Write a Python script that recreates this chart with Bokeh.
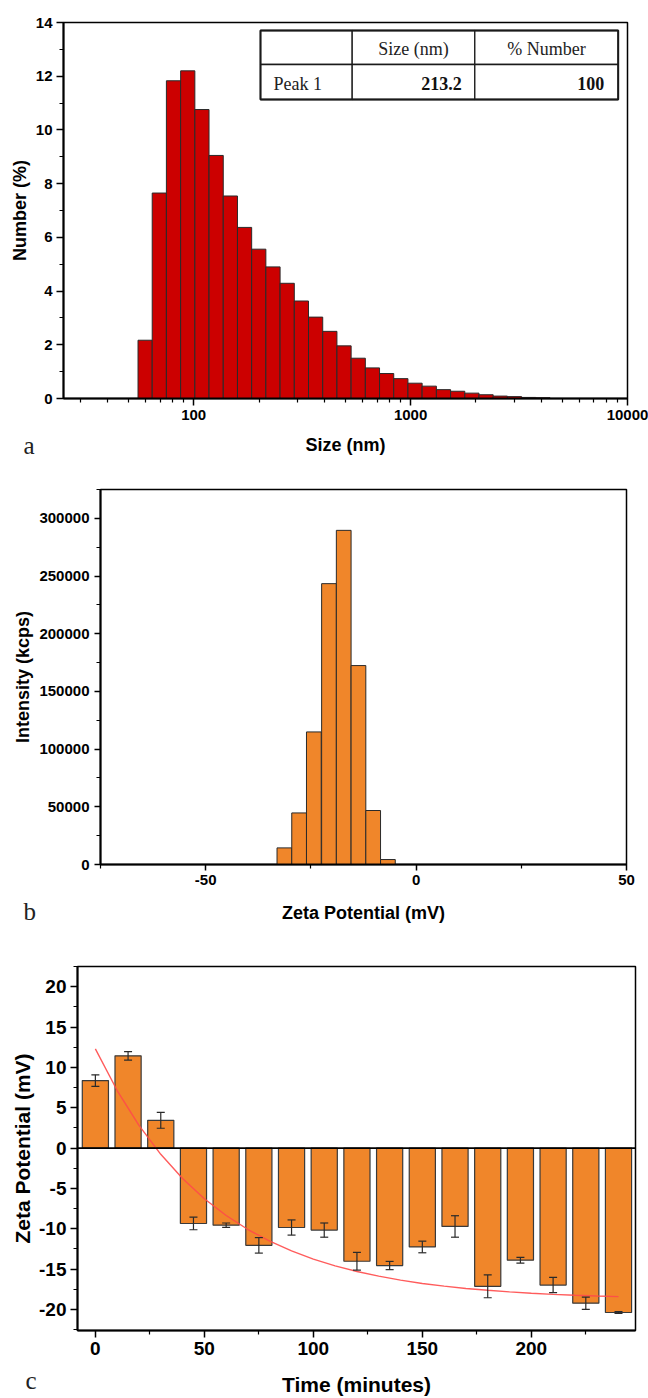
import math
from bokeh.plotting import figure
from bokeh.layouts import column
from bokeh.models import (FixedTicker, BasicTickFormatter, Label, Span, Whisker,
                          TeeHead, ColumnDataSource)
from bokeh.embed import file_html
from bokeh.resources import INLINE

# ---------------- data ----------------
# (a) size distribution by number
size_nm = [59.7, 69.4, 80.7, 93.9, 109.1, 126.9, 147.6, 171.6, 199.5, 232.0,
           269.8, 313.7, 364.8, 424.2, 493.3, 573.5, 666.8, 775.4, 901.6, 1048,
           1219, 1418, 1648, 1917, 2228, 2591, 3013, 3504, 4074]
number_pct = [2.17, 7.65, 11.83, 12.20, 10.76, 9.05, 7.54, 6.37, 5.56, 4.90,
              4.29, 3.63, 3.03, 2.50, 1.96, 1.50, 1.14, 0.93, 0.74, 0.57,
              0.46, 0.33, 0.27, 0.20, 0.14, 0.09, 0.07, 0.04, 0.03]
a_xticks = [100, 1000, 10000]
table_header = ["", "Size (nm)", "% Number"]
table_row = ["Peak 1", "213.2", "100"]

# (b) zeta potential distribution
zeta_mv = [-31.3, -27.8, -24.3, -20.7, -17.2, -13.7, -10.2, -6.7]
intensity_kcps = [14400, 44700, 114900, 243400, 289600, 172400, 46800, 4300]
b_xticks = [-50, 0, 50]
b_yticks = [0, 50000, 100000, 150000, 200000, 250000, 300000]

# (c) zeta potential vs time
time_min = [0, 15, 30, 45, 60, 75, 90, 105, 120, 135, 150, 165, 180, 195, 210, 225, 240]
zeta_c = [8.36, 11.43, 3.44, -9.34, -9.55, -12.05, -9.84, -10.16, -14.02, -14.55,
          -12.25, -9.71, -17.13, -13.89, -16.97, -19.22, -20.37]
zeta_err = [0.72, 0.53, 0.98, 0.78, 0.27, 0.96, 0.94, 0.88, 1.10, 0.51,
            0.72, 1.33, 1.41, 0.35, 0.94, 0.76, 0.10]
fit_t = [0, 10, 20, 30, 40, 50, 60, 70, 80, 90, 100, 110, 120, 130, 140, 150,
         160, 170, 180, 190, 200, 210, 220, 230, 240]
fit_zeta = [12.30, 7.13, 2.82, -0.77, -3.77, -6.27, -8.35, -10.09, -11.54, -12.74,
            -13.75, -14.59, -15.29, -15.87, -16.36, -16.77, -17.10, -17.39, -17.62,
            -17.82, -17.98, -18.12, -18.23, -18.32, -18.40]
c_xticks = [0, 50, 100, 150, 200]
c_yticks = [-20, -15, -10, -5, 0, 5, 10, 15, 20]

# ---------------- styling ----------------
SANS = "Liberation Sans"
SERIF = "Liberation Serif"
RED = "#CC0000"
ORANGE = "#F0862A"
W = 648


def style_axes(p, tick_px, label_px, tick_out, lbl_standoff, x_als, y_als):
    for ax in (p.xaxis[0], p.yaxis[0]):
        ax.axis_line_color = "black"
        ax.axis_line_width = 2
        ax.major_tick_line_color = "black"
        ax.major_tick_line_width = 1.5
        ax.minor_tick_line_color = "black"
        ax.minor_tick_line_width = 1.2
        ax.major_tick_in = 0
        ax.major_tick_out = tick_out
        ax.minor_tick_in = 0
        ax.minor_tick_out = 4
        ax.major_label_text_font = SANS
        ax.major_label_text_font_style = "bold"
        ax.major_label_text_font_size = f"{tick_px}px"
        ax.major_label_text_color = "black"
        ax.major_label_standoff = lbl_standoff
        ax.axis_label_text_font = SANS
        ax.axis_label_text_font_style = "bold"
        ax.axis_label_text_font_size = f"{label_px}px"
        ax.axis_label_text_color = "black"
    p.xaxis[0].axis_label_standoff = x_als
    p.yaxis[0].axis_label_standoff = y_als
    p.xgrid.visible = False
    p.ygrid.visible = False
    p.outline_line_color = "black"
    p.outline_line_width = 1.5
    p.background_fill_color = "white"
    p.border_fill_color = "white"


def plain_labels(ticks):
    return {t: str(t) for t in ticks}


def panel_letter(p, x, y, txt):
    # lives in the (otherwise empty) right side panel so it is not clipped to the
    # frame; its position is still given in the plot's data coordinates
    p.add_layout(Label(x=x, y=y, text=txt, text_font=SERIF, text_color="#222222",
                       text_font_size="25px", text_align="left",
                       text_baseline="alphabetic"), "right")


# ---------------- panel (a) ----------------
A_TOP = 0
A_H = 460
A_ML, A_MR, A_MT, A_MB = 63, 21, 22, 62
A_XR = (25.1, 10000)
A_YR = (0, 14)
pa = figure(width=W, height=A_H, x_axis_type="log", x_range=A_XR, y_range=A_YR,
            output_backend="svg", toolbar_location=None, frame_align=False,
            min_border_left=A_ML, min_border_right=A_MR,
            min_border_top=A_MT, min_border_bottom=A_MB)
AX0, AX1 = A_ML, W - A_MR
AY0, AY1 = A_TOP + A_MT, A_TOP + A_H - A_MB


def ax_(px):
    lo, hi = math.log10(A_XR[0]), math.log10(A_XR[1])
    return 10 ** (lo + (px - AX0) / (AX1 - AX0) * (hi - lo))


def ay_(py):
    return A_YR[0] + (AY1 - py) / (AY1 - AY0) * (A_YR[1] - A_YR[0])


lefts, rights = [], []
n = len(size_nm)
for i, s in enumerate(size_nm):
    lo = math.sqrt(size_nm[i - 1] * s) if i > 0 else s / math.sqrt(size_nm[1] / size_nm[0])
    hi = math.sqrt(size_nm[i + 1] * s) if i < n - 1 else s * math.sqrt(size_nm[-1] / size_nm[-2])
    lefts.append(lo)
    rights.append(hi)
pa.quad(left=lefts, right=rights, top=number_pct, bottom=0,
        fill_color=RED, line_color="#2a2a2a", line_width=1)

pa.xaxis.ticker = FixedTicker(ticks=a_xticks,
                              minor_ticks=[30, 40, 50, 60, 70, 80, 90,
                                           200, 300, 400, 500, 600, 700, 800, 900,
                                           2000, 3000, 4000, 5000, 6000, 7000, 8000, 9000])
pa.xaxis.formatter = BasicTickFormatter(use_scientific=False)
pa.yaxis.ticker = FixedTicker(ticks=[0, 2, 4, 6, 8, 10, 12, 14],
                              minor_ticks=[1, 3, 5, 7, 9, 11, 13])
pa.xaxis.axis_label = "Size (nm)"
pa.yaxis.axis_label = "Number (%)"
style_axes(pa, 15, 18, 7, 4, 12, 3)

# table
cols_px = [260, 351.7, 474.3, 617.7]
rows_px = [30, 64, 99]
for r in range(2):
    for c in range(3):
        pa.quad(left=[ax_(cols_px[c])], right=[ax_(cols_px[c + 1])],
                top=[ay_(rows_px[r])], bottom=[ay_(rows_px[r + 1])],
                fill_color="white", line_color="#1a1a1a", line_width=1.3)
pa.quad(left=[ax_(cols_px[0])], right=[ax_(cols_px[3])],
        top=[ay_(rows_px[0])], bottom=[ay_(rows_px[2])],
        fill_alpha=0, line_color="#1a1a1a", line_width=2)
mid1, mid2 = 48, 83
TBL = dict(text_font=SERIF, text_font_size="18px", text_baseline="middle")
pa.add_layout(Label(x=ax_((cols_px[1] + cols_px[2]) / 2), y=ay_(mid1), text=table_header[1],
                    text_align="center", text_color="#222222", **TBL))
pa.add_layout(Label(x=ax_((cols_px[2] + cols_px[3]) / 2), y=ay_(mid1), text=table_header[2],
                    text_align="center", text_color="#222222", **TBL))
pa.add_layout(Label(x=ax_(cols_px[0] + 13), y=ay_(mid2), text=table_row[0],
                    text_align="left", text_color="#222222", **TBL))
pa.add_layout(Label(x=ax_(cols_px[2] - 13), y=ay_(mid2), text=table_row[1],
                    text_font_style="bold", text_align="right", text_color="#111111", **TBL))
pa.add_layout(Label(x=ax_(cols_px[3] - 14), y=ay_(mid2), text=table_row[2],
                    text_font_style="bold", text_align="right", text_color="#111111", **TBL))
panel_letter(pa, ax_(23), ay_(445), "a")

# ---------------- panel (b) ----------------
B_TOP = A_TOP + A_H
B_H = 465
B_ML, B_MR, B_MT, B_MB = 100, 22, 29, 61
B_XR = (-75, 50)
B_YR = (0, 325000)
pb = figure(width=W, height=B_H, x_range=B_XR, y_range=B_YR,
            output_backend="svg", toolbar_location=None, frame_align=False,
            min_border_left=B_ML, min_border_right=B_MR,
            min_border_top=B_MT, min_border_bottom=B_MB)
BX0, BX1 = B_ML, W - B_MR
BY0, BY1 = B_TOP + B_MT, B_TOP + B_H - B_MB


def bx_(px):
    return B_XR[0] + (px - BX0) / (BX1 - BX0) * (B_XR[1] - B_XR[0])


def by_(py):
    return B_YR[0] + (BY1 - py) / (BY1 - BY0) * (B_YR[1] - B_YR[0])


pb.vbar(x=zeta_mv, top=intensity_kcps, bottom=0, width=3.5,
        fill_color=ORANGE, line_color="#2a2a2a", line_width=1)
pb.xaxis.ticker = FixedTicker(ticks=b_xticks, minor_ticks=[-75, -25, 25])
pb.xaxis.major_label_overrides = plain_labels(b_xticks)
pb.yaxis.ticker = FixedTicker(ticks=b_yticks,
                              minor_ticks=[25000, 75000, 125000, 175000, 225000, 275000, 325000])
pb.yaxis.formatter = BasicTickFormatter(use_scientific=False)
pb.xaxis.axis_label = "Zeta Potential (mV)"
pb.yaxis.axis_label = "Intensity (kcps)"
style_axes(pb, 15, 18, 6, 4, 15, 3)
pb.yaxis.major_label_standoff = 5
panel_letter(pb, bx_(23), by_(911), "b")

# ---------------- panel (c) ----------------
C_TOP = B_TOP + B_H
C_H = 473
C_ML, C_MR, C_MT, C_MB = 77, 13, 41, 66
C_XR = (-8.2, 247.8)
C_YR = (-22.6, 22.5)
pc = figure(width=W, height=C_H, x_range=C_XR, y_range=C_YR,
            output_backend="svg", toolbar_location=None, frame_align=False,
            min_border_left=C_ML, min_border_right=C_MR,
            min_border_top=C_MT, min_border_bottom=C_MB)
CX0, CX1 = C_ML, W - C_MR
CY0, CY1 = C_TOP + C_MT, C_TOP + C_H - C_MB


def cx_(px):
    return C_XR[0] + (px - CX0) / (CX1 - CX0) * (C_XR[1] - C_XR[0])


def cy_(py):
    return C_YR[0] + (CY1 - py) / (CY1 - CY0) * (C_YR[1] - C_YR[0])


pc.vbar(x=time_min, top=zeta_c, bottom=0, width=12,
        fill_color=ORANGE, line_color="#3a3a3a", line_width=1.2)
pc.add_layout(Span(location=0, dimension="width", line_color="black", line_width=1.6))
pc.line(fit_t, fit_zeta, line_color="#FF4A4A", line_width=1.4, line_alpha=0.9)
src = ColumnDataSource(dict(t=time_min,
                            up=[v + e for v, e in zip(zeta_c, zeta_err)],
                            lo=[v - e for v, e in zip(zeta_c, zeta_err)]))
wh = Whisker(source=src, base="t", upper="up", lower="lo",
             line_color="#2a2a2a", line_width=1.2, level="annotation",
             upper_head=TeeHead(size=8, line_color="#2a2a2a", line_width=1.2),
             lower_head=TeeHead(size=8, line_color="#2a2a2a", line_width=1.2))
pc.add_layout(wh)
pc.xaxis.ticker = FixedTicker(ticks=c_xticks, minor_ticks=[25, 75, 125, 175, 225])
pc.yaxis.ticker = FixedTicker(ticks=c_yticks,
                              minor_ticks=[-22.5, -17.5, -12.5, -7.5, -2.5, 2.5, 7.5, 12.5, 17.5, 22.5])
pc.yaxis.major_label_overrides = plain_labels(c_yticks)
pc.xaxis.axis_label = "Time (minutes)"
pc.yaxis.axis_label = "Zeta Potential (mV)"
style_axes(pc, 19, 21, 7, 4, 15, 2)
panel_letter(pc, cx_(25), cy_(1382), "c")

layout = column(pa, pb, pc, spacing=0)
open("out.html", "w").write(file_html(layout, INLINE))
